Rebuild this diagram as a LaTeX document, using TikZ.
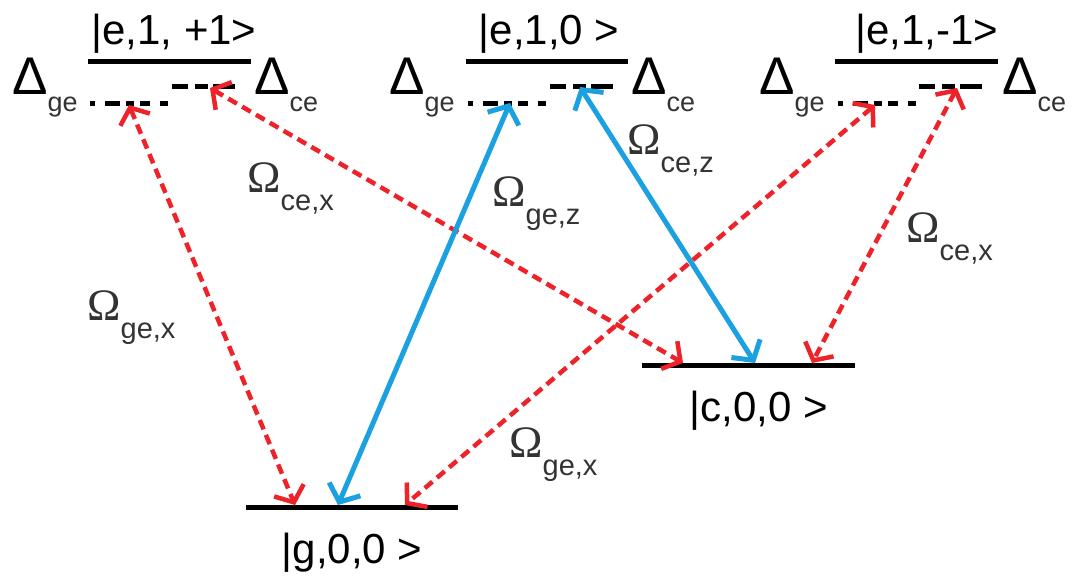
\documentclass[tikz,border=0pt]{standalone}
\usepackage{fontspec}
\setmainfont{Liberation Sans}
\newfontfamily\omfont{Liberation Serif}
\usetikzlibrary{arrows.meta}
\definecolor{rd}{HTML}{EE2229}
\definecolor{bl}{HTML}{1BA1E2}
\definecolor{tx}{HTML}{333333}
\newcommand\Om[1]{{\fontsize{45}{45}\omfont Ω}\raisebox{-18pt}{\fontsize{29}{29}\selectfont #1}}
\newcommand\Dl[1]{{\fontsize{53}{53}\selectfont Δ}\raisebox{-17pt}{\fontsize{27}{27}\selectfont\color{tx}#1}}
\newcommand\Ket[1]{\fontsize{42}{42}\selectfont #1}
\tikzset{
  lev/.style={line width=5pt},
  dge/.style={line width=5pt,dash pattern=on 5pt off 10pt on 15pt off 6pt on 8pt off 6pt on 10pt off 10pt on 8pt},
  dce/.style={line width=5pt,dash pattern=on 16pt off 7pt on 13pt off 5pt on 22pt},
  rtip/.tip={Straight Barb[length=13pt,width=32pt,line width=4.5pt]},
  btip/.tip={Straight Barb[length=14pt,width=34pt,line width=5pt]},
  rarr/.style={draw=rd,line width=4.5pt,dash pattern=on 10pt off 6pt,rtip-rtip},
  barr/.style={draw=bl,line width=5pt,btip-btip},
  lbl/.style={anchor=base west,inner sep=0pt,text=tx},
  dlbl/.style={anchor=base west,inner sep=0pt},
  ket/.style={anchor=base,inner sep=0pt}
}
\begin{document}
\begin{tikzpicture}[x=1pt,y=-1pt]
\useasboundingbox[fill=white] (0,0) rectangle (1079,580);
% upper levels
\draw[lev] (88,62) coordinate (e1l) -- (251,62) coordinate (e1r);
\draw[lev] (466,62) coordinate (e2l) -- (628,62) coordinate (e2r);
\draw[lev] (835,62) coordinate (e3l) -- (998,62) coordinate (e3r);
% detuned levels
\draw[dge] (90,104) coordinate (g1l) -- (168,104) coordinate (g1r);
\draw[dce] (172,87) coordinate (c1l) -- (235,87) coordinate (c1r);
\draw[dge] (468,104) coordinate (g2l) -- (546,104) coordinate (g2r);
\draw[dce] (550,87) coordinate (c2l) -- (613,87) coordinate (c2r);
\draw[dge] (838,104) coordinate (g3l) -- (916,104) coordinate (g3r);
\draw[dce] (919,87) coordinate (c3l) -- (982,87) coordinate (c3r);
% lower levels
\draw[lev] (246,507) coordinate (gl) -- (458,507) coordinate (gr);
\draw[lev] (642,365) coordinate (cl) -- (855,365) coordinate (cr);
% kets
\node[ket] (k1) at (174,45) {\Ket{|e,1, +1>}};
\node[ket] (k2) at (549,45) {\Ket{|e,1,0 >}};
\node[ket] (k3) at (927,45) {\Ket{|e,1,-1>}};
\node[ket] (kg) at (352,563) {\Ket{|g,0,0 >}};
\node[ket] (kc) at (759,421) {\Ket{|c,0,0 >}};
% detunings
\node[dlbl] (d1g) at (12,95) {\Dl{ge}};
\node[dlbl] (d1c) at (254,95) {\Dl{ce}};
\node[dlbl] (d2g) at (389,95) {\Dl{ge}};
\node[dlbl] (d2c) at (631,95) {\Dl{ce}};
\node[dlbl] (d3g) at (759,95) {\Dl{ge}};
\node[dlbl] (d3c) at (1002,95) {\Dl{ce}};
% arrow end points
\coordinate (a1t) at (129,105); \coordinate (a1b) at (295,505);
\coordinate (a2t) at (210,88);  \coordinate (a2b) at (683,363);
\coordinate (a3t) at (510,103); \coordinate (a3b) at (338,505);
\coordinate (a4t) at (580,87);  \coordinate (a4b) at (755,363);
\coordinate (a5t) at (875,105); \coordinate (a5b) at (405,505);
\coordinate (a6t) at (957,88);  \coordinate (a6b) at (812,363);
\draw[rarr] (a1t) -- (a1b);
\draw[rarr] (a2t) -- (a2b);
\draw[barr] (a3t) -- (a3b);
\draw[barr] (a4t) -- (a4b);
\draw[rarr] (a5t) -- (a5b);
\draw[rarr] (a6t) -- (a6b);
% Rabi labels
\node[lbl] (o1) at (87,320) {\Om{ge,x}};
\node[lbl] (o2) at (247,193) {\Om{ce,x}};
\node[lbl] (o3) at (492,207) {\Om{ge,z}};
\node[lbl] (o4) at (627,155) {\Om{ce,z}};
\node[lbl] (o5) at (509,457) {\Om{ge,x}};
\node[lbl] (o6) at (906,243) {\Om{ce,x}};
\end{tikzpicture}
\end{document}
